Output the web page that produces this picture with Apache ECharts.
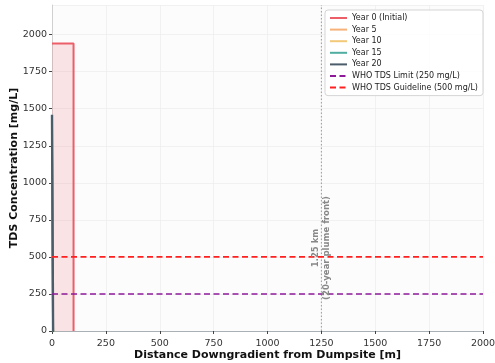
<!DOCTYPE html>
<html><head><meta charset="utf-8">
<script src="https://cdn.jsdelivr.net/npm/echarts@6/dist/echarts.min.js"></script>
<style>html,body{margin:0;padding:0;background:#fff}#c{width:495px;height:363px}</style>
</head><body><div id="c"></div>
<script>
var xTicks = [0, 250, 500, 750, 1000, 1250, 1500, 1750, 2000];
var yTicks = [0, 250, 500, 750, 1000, 1250, 1500, 1750, 2000];
var year0X = [0, 100, 100];
var year0Y = [1940, 1940, 0];
var laterX = [0, 5, 10];
var year5Y = [1200, 0, 0];
var year10Y = [1300, 0, 0];
var year15Y = [1400, 0, 0];
var year20Y = [1460, 0, 0];
var whoLimit = 250;
var whoGuide = 500;
var plumeFront = 1250;
var plumeLabelY = 560;
var xRange = [0, 2000];
var yRange = [0, 2200];

function pairs(xs, ys){ return xs.map(function(x,i){ return [x, ys[i]]; }); }

var chart = echarts.init(document.getElementById('c'));
var F = 'DejaVu Sans';
var lineS = function(name, xs, ys, color, extra){
  var s = {name:name, type:'line', data:pairs(xs, ys), showSymbol:false, symbol:'none',
    lineStyle:{color:color, width:2}, itemStyle:{color:color}, animation:false, z:3};
  if (extra) for (var k in extra) s[k]=extra[k];
  return s;
};
var fmt = function(v){ return String(v); };
chart.setOption({
  animation:false,
  textStyle:{fontFamily:F},
  grid:{left:52, right:12, top:5, bottom:32, show:true, backgroundColor:'#fcfcfc', borderWidth:0, outerBoundsMode:'none', containLabel:false},
  xAxis:{type:'value', min:xRange[0], max:xRange[1], interval:250,
    name:'Distance Downgradient from Dumpsite [m]', nameLocation:'middle', nameGap:19, nameMoveOverlap:false,
    nameTextStyle:{fontWeight:'bold', fontSize:11, color:'#111'},
    axisLine:{show:true, lineStyle:{color:'#aab0b3', width:1.2}},
    axisTick:{show:true, length:3, lineStyle:{color:'#444'}},
    axisLabel:{fontSize:9.5, color:'#333', margin:8, formatter:fmt},
    splitLine:{show:true, lineStyle:{color:'#eeeeee', width:0.8}}},
  yAxis:{type:'value', min:yRange[0], max:yRange[1], interval:250,
    name:'TDS Concentration [mg/L]', nameLocation:'middle', nameGap:32, nameMoveOverlap:false,
    nameTextStyle:{fontWeight:'bold', fontSize:11, color:'#111'},
    axisLine:{show:true, lineStyle:{color:'#d0d0d0', width:1}},
    axisTick:{show:true, length:3, lineStyle:{color:'#444'}},
    axisLabel:{fontSize:9.5, color:'#333', margin:5, showMaxLabel:false, formatter:fmt},
    splitLine:{show:true, lineStyle:{color:'#eeeeee', width:0.8}}},
  legend:{orient:'vertical', left:325, top:10, padding:[4,5,4,4], itemWidth:17, itemHeight:8, itemGap:3.6,
    borderColor:'#d5d5d5', borderWidth:1, borderRadius:3, backgroundColor:'rgba(255,255,255,0.85)',
    itemStyle:{opacity:0},
    textStyle:{fontSize:8, color:'#222', fontFamily:F},
    data:['Year 0 (Initial)','Year 5','Year 10','Year 15','Year 20','WHO TDS Limit (250 mg/L)','WHO TDS Guideline (500 mg/L)']},
  series:[
    lineS('Year 0 (Initial)', year0X, year0Y, '#e8505b', {areaStyle:{color:'rgba(232,80,91,0.2)'}, lineStyle:{color:'#ec5f68', width:2}}),
    lineS('Year 5', laterX, year5Y, '#f7b27a'),
    lineS('Year 10', laterX, year10Y, '#f2c879'),
    lineS('Year 15', laterX, year15Y, '#4fae9f'),
    lineS('Year 20', laterX, year20Y, '#4b5d6b', {lineStyle:{color:'#4b5d6b', width:2.4}}),
    lineS('WHO TDS Limit (250 mg/L)', xRange, [whoLimit, whoLimit], '#8e1a9a', {lineStyle:{color:'#8e1a9a', width:1.6, type:[6,3.5]}, z:4}),
    lineS('WHO TDS Guideline (500 mg/L)', xRange, [whoGuide, whoGuide], '#ff2020', {lineStyle:{color:'#ff2020', width:1.6, type:[6,3.5]}, z:4}),
    lineS('plume', [plumeFront, plumeFront], yRange, '#999', {lineStyle:{color:'#9a9a9a', width:1, type:[1.5,2]}, z:2})
  ]
});
var p = chart.convertToPixel({gridIndex:0}, [plumeFront, plumeLabelY]);
chart.setOption({graphic:[{type:'text', x:p[0], y:p[1], rotation:Math.PI/2, z:10,
  style:{text:'1.25 km\n(20-year plume front)', fill:'#888', fontSize:8.5, fontWeight:'bold', fontFamily:F,
    align:'center', verticalAlign:'middle', lineHeight:11}}]});
</script></body></html>
